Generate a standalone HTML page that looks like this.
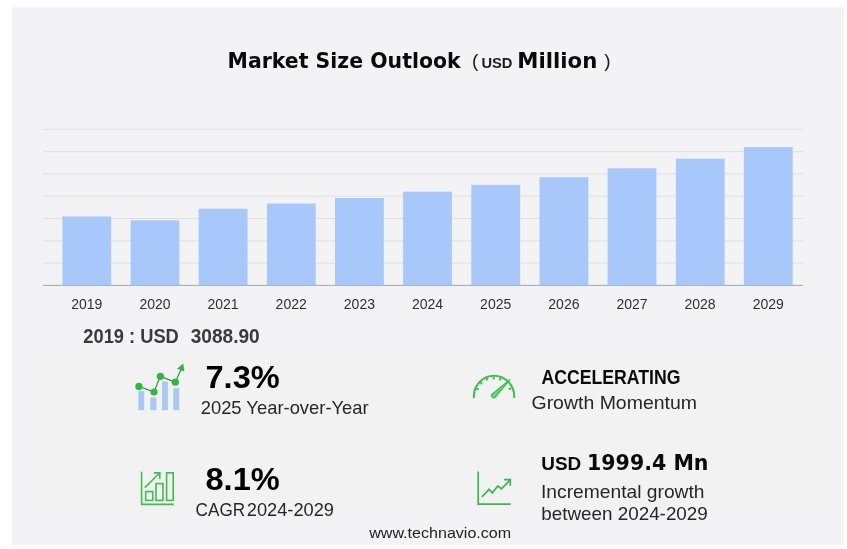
<!DOCTYPE html>
<html lang="en">
<head>
<meta charset="utf-8">
<title>Market Size Outlook</title>
<style>
html,body{margin:0;padding:0;background:#ffffff;}
body{width:847px;height:549px;overflow:hidden;font-family:"Liberation Sans",sans-serif;}
svg{display:block;}
text{font-family:"Liberation Sans",sans-serif;}
.b{font-weight:bold;}
.d{font-family:"DejaVu Sans","Liberation Sans",sans-serif;}
</style>
</head>
<body>
<svg width="847" height="549" viewBox="0 0 847 549">
<rect x="0" y="0" width="847" height="549" fill="#ffffff"/>
<rect x="12" y="7" width="832" height="537.7" fill="#f3f3f5"/>
<rect x="42.5" y="349.5" width="779.5" height="162.3" fill="#f1f1f2" opacity="0.8"/>
<text class="b d" x="227.6" y="67.9" font-size="20.6" fill="#0a0a0a" textLength="233" lengthAdjust="spacingAndGlyphs">Market Size Outlook</text>
<text x="472.0" y="67.4" font-size="19" fill="#1a1a1a">(</text>
<text class="b" x="481.4" y="67.6" font-size="14" fill="#1a1a1a" textLength="31" lengthAdjust="spacingAndGlyphs">USD</text>
<text class="b d" x="517.3" y="67.6" font-size="20.6" fill="#0a0a0a" textLength="80" lengthAdjust="spacingAndGlyphs">Million</text>
<text x="604.2" y="67.4" font-size="19" fill="#1a1a1a">)</text>
<g stroke="#dfdfe1" stroke-width="1">
<line x1="43" y1="263.1" x2="803" y2="263.1"/>
<line x1="43" y1="240.8" x2="803" y2="240.8"/>
<line x1="43" y1="218.5" x2="803" y2="218.5"/>
<line x1="43" y1="196.2" x2="803" y2="196.2"/>
<line x1="43" y1="173.9" x2="803" y2="173.9"/>
<line x1="43" y1="151.6" x2="803" y2="151.6"/>
<line x1="43" y1="129.3" x2="803" y2="129.3"/>
</g>
<line x1="43" y1="285.4" x2="803" y2="285.4" stroke="#b2b2b4" stroke-width="1"/>
<g fill="#a8c7fa">
<rect x="62.4" y="216.5" width="48.8" height="69.4"/>
<rect x="130.6" y="220.3" width="48.8" height="65.6"/>
<rect x="198.7" y="208.7" width="48.8" height="77.2"/>
<rect x="266.9" y="203.5" width="48.8" height="82.4"/>
<rect x="335.0" y="198.0" width="48.8" height="87.9"/>
<rect x="403.1" y="191.7" width="48.8" height="94.2"/>
<rect x="471.3" y="184.8" width="48.8" height="101.1"/>
<rect x="539.5" y="177.2" width="48.8" height="108.7"/>
<rect x="607.6" y="168.3" width="48.8" height="117.6"/>
<rect x="675.8" y="158.7" width="48.8" height="127.2"/>
<rect x="743.9" y="147.1" width="48.8" height="138.8"/>
</g>
<line x1="43" y1="285.4" x2="803" y2="285.4" stroke="#9a9a9c" stroke-width="1" opacity="0.35"/>
<g font-size="14" fill="#303030" text-anchor="middle">
<text x="86.8" y="308.8">2019</text>
<text x="155.0" y="308.8">2020</text>
<text x="223.1" y="308.8">2021</text>
<text x="291.2" y="308.8">2022</text>
<text x="359.4" y="308.8">2023</text>
<text x="427.5" y="308.8">2024</text>
<text x="495.7" y="308.8">2025</text>
<text x="563.9" y="308.8">2026</text>
<text x="632.0" y="308.8">2027</text>
<text x="700.1" y="308.8">2028</text>
<text x="768.3" y="308.8">2029</text>
</g>
<text class="b" x="83.3" y="342.9" font-size="19.3" fill="#3a3a3a" textLength="95.5" lengthAdjust="spacingAndGlyphs">2019 : USD</text>
<text class="b" x="190.7" y="342.9" font-size="19.3" fill="#3a3a3a" textLength="69" lengthAdjust="spacingAndGlyphs">3088.90</text>
<g>
<g fill="#a9c8f3">
<rect x="138.3" y="391.1" width="5.9" height="19"/>
<rect x="150.2" y="397.4" width="6.2" height="12.7"/>
<rect x="162" y="381.6" width="5.9" height="28.5"/>
<rect x="173.3" y="388.2" width="5.9" height="21.9"/>
</g>
<polyline points="138.9,386.4 154,392 160.3,376.3 175.3,382.2 181.5,368.5" fill="none" stroke="#3a9c46" stroke-width="1.3"/>
<g fill="#2fb73f">
<circle cx="138.9" cy="386.4" r="3.6"/>
<circle cx="154" cy="392" r="3.6"/>
<circle cx="160.3" cy="376.3" r="3.6"/>
<circle cx="175.3" cy="382.2" r="3.6"/>
<polygon points="183.2,363.6 177,368.8 184.4,371.4"/>
</g>
</g>
<g fill="none" stroke="#3fbe4d" stroke-width="1.6">
<polyline points="141.6,471.8 141.6,504.4 173.8,504.4"/>
<rect x="145.7" y="491.6" width="7" height="8.8"/>
<rect x="156" y="483.6" width="7" height="16.8"/>
<rect x="166.6" y="472.8" width="6.6" height="27.6"/>
<polyline points="144.8,487.6 159.6,473 "/>
<polyline points="154,472.9 159.8,472.9 159.8,479"/>
</g>
<g fill="none" stroke="#3fbe4d" stroke-width="2" stroke-linecap="butt">
<path d="M473.9 398 L473.9 396.2 A20.15 20.4 0 0 1 514.2 396.2 L514.2 398"/>
</g>
<g stroke="#3fbe4d" stroke-width="2">
<line x1="478.7" y1="389.5" x2="476.3" y2="388.5"/>
<line x1="482.1" y1="384.1" x2="480.3" y2="382.3"/>
<line x1="487.4" y1="380.4" x2="486.4" y2="378.0"/>
<line x1="493.7" y1="379.5" x2="493.7" y2="376.9"/>
<line x1="499.6" y1="380.4" x2="500.4" y2="378.0"/>
<line x1="508.7" y1="389.4" x2="511.0" y2="388.3"/>
</g>
<path d="M509.8 379.7 L492.3 394.0 A2.1 2.1 0 0 0 495.3 397.2 Z" fill="#63da72" stroke="#3fbe4d" stroke-width="1.2" stroke-linejoin="round"/>
<g fill="none" stroke="#3cb54a" stroke-width="1.7">
<polyline points="478.2,471.6 478.2,504.2 510.7,504.2"/>
<polyline points="481.9,497 489,489.3 492.2,492.9 497.9,486 501.5,488.8 510,480"/>
<polyline points="504.1,479.7 510.3,479.7 510.3,485.8"/>
</g>
<text class="b" x="205.5" y="388.3" font-size="32" fill="#000000" textLength="74.2" lengthAdjust="spacingAndGlyphs">7.3%</text>
<text x="200.7" y="413.8" font-size="19" fill="#262626" textLength="168" lengthAdjust="spacingAndGlyphs">2025 Year-over-Year</text>
<text class="b" x="541.5" y="384.0" font-size="20" fill="#0a0a0a" textLength="139" lengthAdjust="spacingAndGlyphs">ACCELERATING</text>
<text x="531.5" y="408.9" font-size="19" fill="#262626" textLength="165.5" lengthAdjust="spacingAndGlyphs">Growth Momentum</text>
<text class="b" x="205.5" y="489.7" font-size="32" fill="#000000" textLength="74.2" lengthAdjust="spacingAndGlyphs">8.1%</text>
<text x="195.6" y="515.5" font-size="19" fill="#262626" textLength="49.5" lengthAdjust="spacingAndGlyphs">CAGR</text>
<text x="246.8" y="515.5" font-size="19" fill="#262626" textLength="87.2" lengthAdjust="spacingAndGlyphs">2024-2029</text>
<text class="b" x="541.3" y="469.8" font-size="18" fill="#0a0a0a" textLength="40" lengthAdjust="spacingAndGlyphs">USD</text>
<text class="b d" x="587.0" y="469.8" font-size="20.6" fill="#0a0a0a" textLength="121.5" lengthAdjust="spacingAndGlyphs">1999.4 Mn</text>
<text x="541.0" y="497.9" font-size="19" fill="#262626" textLength="163.5" lengthAdjust="spacingAndGlyphs">Incremental growth</text>
<text x="541.3" y="520.3" font-size="19" fill="#262626" textLength="166.5" lengthAdjust="spacingAndGlyphs">between 2024-2029</text>
<text x="369.2" y="538" font-size="15" fill="#222222" textLength="142" lengthAdjust="spacingAndGlyphs">www.technavio.com</text>
</svg>
</body>
</html>
